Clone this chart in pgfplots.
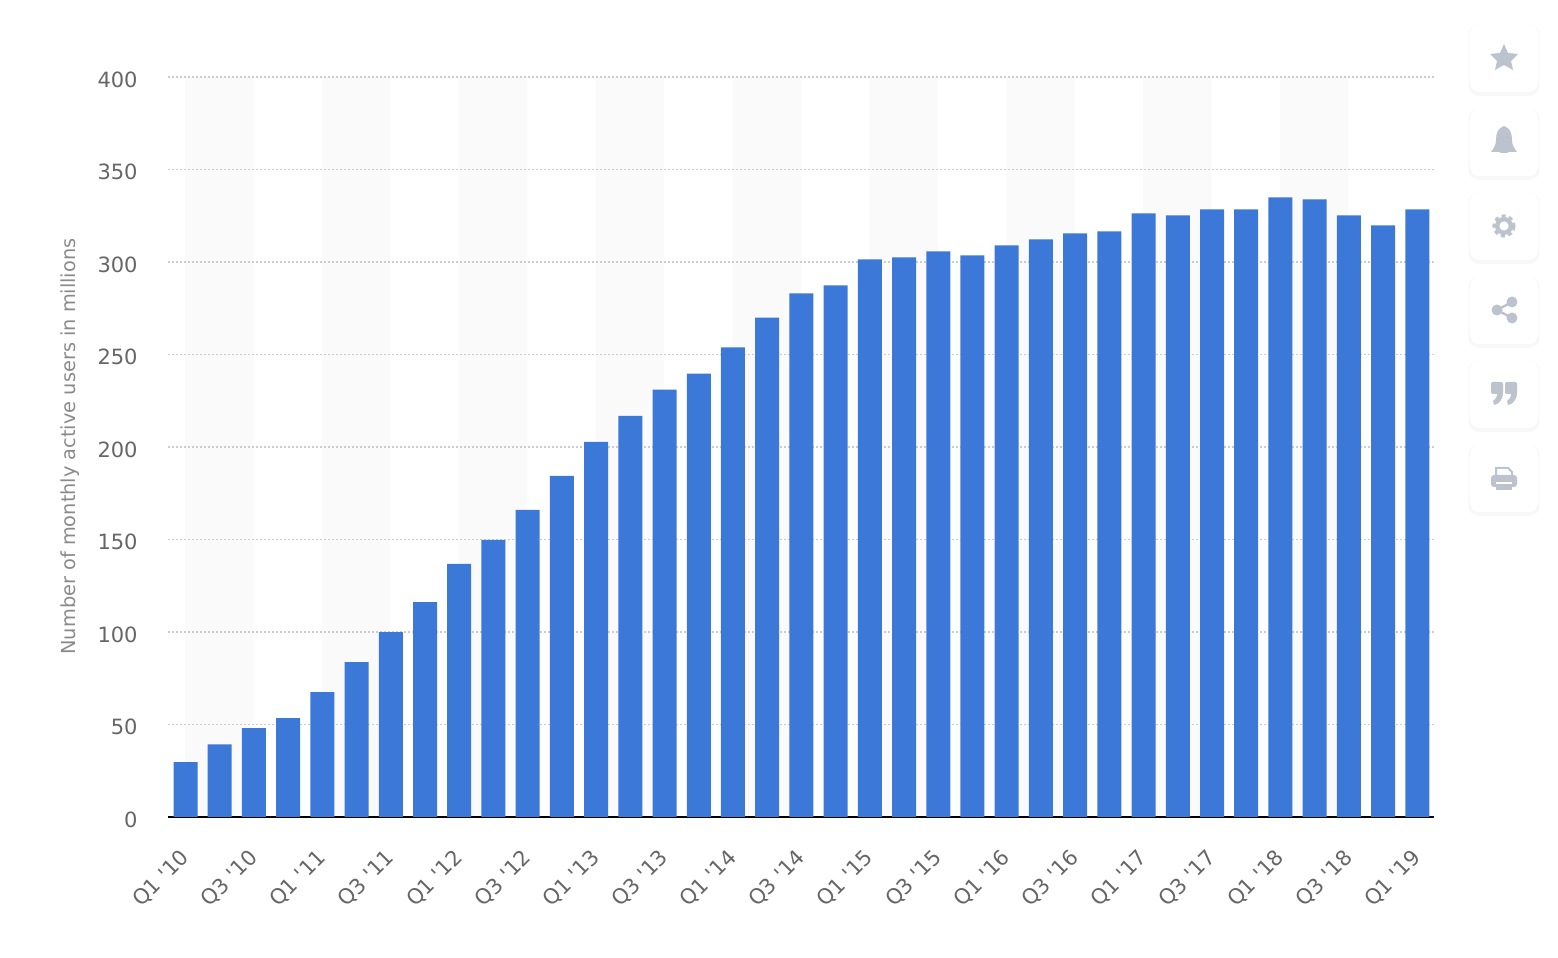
\documentclass[border=0pt]{standalone}
\usepackage{fontspec}
\usepackage{pgfplots}
\pgfplotsset{compat=1.18}
\usetikzlibrary{shadows}
\newfontfamily\chartfont{DejaVu Sans}
\definecolor{barblue}{HTML}{3C78D8}
\definecolor{bandgray}{HTML}{FAFAFA}
\definecolor{gridgray}{HTML}{CCCCCC}
\definecolor{ticktext}{HTML}{666666}
\definecolor{labeltext}{HTML}{8A8A8A}
\definecolor{icongray}{HTML}{BCC3CE}
\pgfplotsset{plotbox/.style={
    at={(84pt,70.5pt)},
    anchor=south west,
    scale only axis,
    width=633pt,
    height=370pt,
    xmin=-0.5, xmax=36.5,
    ymin=0, ymax=400,
}}
% one reference pixel is 0.5pt
\begin{document}
\begin{tikzpicture}[x=0.5pt,y=0.5pt]
\path[use as bounding box] (0,0) rectangle (1558,958);
% shaded bands sit in their own axis so the grid lies over them
\begin{axis}[plotbox,hide axis]
\addplot[fill=bandgray,draw=none] coordinates {
    (0,0) (0,400) (2,400) (2,0) (4,0) (4,400) (6,400) (6,0)
    (8,0) (8,400) (10,400) (10,0) (12,0) (12,400) (14,400) (14,0)
    (16,0) (16,400) (18,400) (18,0) (20,0) (20,400) (22,400) (22,0)
    (24,0) (24,400) (26,400) (26,0) (28,0) (28,400) (30,400) (30,0)
    (32,0) (32,400) (34,400) (34,0)
};
\end{axis}
\begin{axis}[
    plotbox,
    xtick={0,2,...,36},
    xticklabels={Q1 '10,Q3 '10,Q1 '11,Q3 '11,Q1 '12,Q3 '12,Q1 '13,Q3 '13,Q1 '14,Q3 '14,Q1 '15,Q3 '15,Q1 '16,Q3 '16,Q1 '17,Q3 '17,Q1 '18,Q3 '18,Q1 '19},
    ytick={0,50,...,400},
    major tick length=0pt,
    axis x line*=bottom,
    axis y line*=left,
    x axis line style={black,line width=1pt,-},
    y axis line style={draw=none},
    ymajorgrids,
    grid style={gridgray,line width=0.7pt,dash pattern=on 1pt off 1pt},
    /pgf/number format/assume math mode=true,
    x tick label style={font=\chartfont\fontsize{10.5}{12}\selectfont,text=ticktext,rotate=45,anchor=north east,inner sep=0pt,xshift=-12.9pt,yshift=-8.65pt},
    y tick label style={font=\chartfont\fontsize{10.5}{12}\selectfont,text=ticktext,anchor=east,inner sep=0pt,xshift=-15pt,yshift=-1.2pt},
]
\addplot[ybar,bar shift=0.2pt,bar width=12pt,fill=barblue,draw=none] coordinates {
    (0,29.6) (1,39.3) (2,48) (3,53.4) (4,67.5) (5,83.7) (6,100) (7,116.2)
    (8,136.8) (9,149.8) (10,166) (11,184.4) (12,202.8) (13,216.8) (14,231) (15,239.7)
    (16,253.8) (17,270) (18,283) (19,287.4) (20,301.4) (21,302.5) (22,305.7) (23,303.6)
    (24,309) (25,312.2) (26,315.5) (27,316.6) (28,326.3) (29,325.2) (30,328.5) (31,328.5)
    (32,335) (33,333.9) (34,325.2) (35,319.8) (36,328.5)
};
\end{axis}
\begin{scope}[shift={(0,958)},y=-0.5pt]
\node[rotate=90,font=\chartfont\fontsize{9.67}{11}\selectfont,text=labeltext,inner sep=0pt] at (70,446.5) {Number of monthly active users in millions};
% side buttons
\foreach \py in {24,108,192,276,360,444}
    \fill[white,rounded corners=5pt,general shadow={fill=black!10,opacity=0.25,shadow xshift=0pt,shadow yshift=-1pt,shadow scale=1.05}] (1470,\py) rectangle (1538,\py+68);
% star
\fill[icongray] (1504,44) -- (1508,53) -- (1518,54) -- (1511,61) -- (1513,70) -- (1504,65) -- (1495,70) -- (1497,61) -- (1490,54) -- (1500,53) -- cycle;
% bell
\fill[icongray] (1504,126) .. controls (1498,128) and (1496,133) .. (1496,140) .. controls (1496,146) and (1493,149) .. (1491,152) -- (1517,152) .. controls (1515,149) and (1512,146) .. (1512,140) .. controls (1512,133) and (1510,128) .. (1504,126) -- cycle;
\fill[icongray] (1500,153) arc[start angle=180,end angle=360,x radius=4,y radius=4] -- cycle;
% gear
\draw[icongray,line width=2.2pt] (1504,226) circle[radius=6.8];
\draw[icongray,line width=1.6pt,dash pattern=on 2pt off 1.7pt] (1504,226) circle[radius=10];
% share
\fill[icongray] (1497,310) circle[radius=5.5] (1512,302) circle[radius=5.5] (1512,318) circle[radius=5.5];
\draw[icongray,line width=1.2pt] (1512,302) -- (1497,310) -- (1512,318);
% quote
\foreach \dx in {0,14}{
    \fill[icongray,rounded corners=1pt] (1491+\dx,382) rectangle (1503+\dx,394);
    \fill[icongray] (1503+\dx,392) .. controls (1503+\dx,400) and (1499+\dx,404) .. (1494+\dx,405) -- (1493+\dx,401) .. controls (1496+\dx,400) and (1497+\dx,397) .. (1497+\dx,393) -- cycle;
}
% printer
\draw[icongray,line width=1pt] (1496,478) -- (1496,468) -- (1508,468) -- (1512,472) -- (1512,478);
\fill[icongray,rounded corners=1.5pt] (1491,475) rectangle (1517,487);
\fill[white] (1496,482) rectangle (1512,484);
\fill[icongray] (1496,486) rectangle (1512,490);
\end{scope}
\end{tikzpicture}
\end{document}
